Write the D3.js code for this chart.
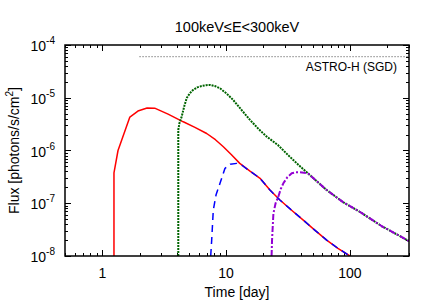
<!DOCTYPE html>
<html>
<head>
<meta charset="utf-8">
<script src="https://cdn.jsdelivr.net/npm/d3@7"></script>
<style>
body { margin: 0; background: #fff; }
text { font-family: "Liberation Sans", Arial, sans-serif; fill: #000; }
</style>
</head>
<body>
<div id="chart"></div>
<script>
// light curves, [time (day), flux (photons/s/cm^2)]
var redCurve = [
    [1.243, 1e-8], [1.243, 3.75e-7], [1.34, 1.0e-6], [1.67, 4.3e-6], [1.94, 5.6e-6],
    [2.3, 6.4e-6], [2.65, 6.35e-6], [3.4, 4.9e-6], [4.51, 3.5e-6], [5.6, 2.75e-6],
    [6.97, 2.1e-6], [8.2, 1.6e-6], [9.5, 1.18e-6], [11.0, 8.4e-7], [12.9, 5.7e-7],
    [15.5, 4.1e-7], [18.8, 2.97e-7], [22.5, 1.8e-7], [27.2, 1.15e-7], [34, 7.3e-8],
    [42, 4.8e-8], [52, 3.1e-8], [64.9, 2.0e-8], [80, 1.4e-8], [100, 1e-8]
];
var greenCurve = [
    [4.11, 1e-8], [4.11, 2.45e-6], [4.2, 3.3e-6], [4.38, 4.4e-6], [4.6, 7.0e-6],
    [4.81, 9.9e-6], [5.1, 1.22e-5], [5.4, 1.4e-5], [5.85, 1.57e-5], [6.35, 1.67e-5],
    [6.9, 1.73e-5], [7.41, 1.75e-5], [8.1, 1.67e-5], [8.93, 1.51e-5], [10.1, 1.2e-5],
    [11.4, 9.1e-6], [13.3, 5.9e-6], [15.6, 3.8e-6], [18.3, 2.55e-6], [21.3, 1.83e-6],
    [26.2, 1.27e-6], [32, 8.0e-7], [38.5, 5.3e-7], [45.8, 3.7e-7], [64.9, 1.78e-7],
    [88, 1.05e-7], [120, 6.9e-8], [180, 3.7e-8], [300, 1.92e-8]
];
var blueCurve = [
    [7.51, 1e-8], [7.65, 2.0e-8], [7.88, 7.4e-8], [8.3, 1.45e-7], [8.93, 2.39e-7],
    [9.8, 4.6e-7], [10.8, 5.5e-7], [12.2, 5.7e-7], [13.5, 5.2e-7], [15.5, 4.1e-7],
    [18.8, 2.97e-7], [22.5, 1.8e-7], [27.2, 1.15e-7], [34, 7.3e-8], [42, 4.8e-8],
    [52, 3.1e-8], [64.9, 2.0e-8], [80, 1.4e-8], [100, 1e-8]
];
var purpleCurve = [
    [23.3, 1e-8], [23.5, 2.0e-8], [24.1, 6.4e-8], [25.1, 1.0e-7], [26.4, 1.33e-7],
    [27.6, 1.85e-7], [29.0, 2.39e-7], [31.2, 3.1e-7], [33.9, 3.7e-7], [36.5, 3.85e-7],
    [39.5, 3.85e-7], [42.5, 3.8e-7], [45.8, 3.7e-7], [64.9, 1.78e-7], [88, 1.05e-7],
    [120, 6.9e-8], [180, 3.7e-8], [300, 1.92e-8]
];
var sensitivity = [[2.0, 6e-5], [300, 6e-5]];
var sensitivityLabel = "ASTRO-H (SGD)";

var xTicks = [1, 10, 100];
var yTicks = [1e-8, 1e-7, 1e-6, 1e-5, 1e-4];
var titleText = "100keV\u2264E<300keV";
var xLabel = "Time [day]";

var width = 436, height = 305;
var margin = {top: 45, right: 27, bottom: 49, left: 65};

var svg = d3.select("#chart")
    .append("svg")
    .attr("width", width)
    .attr("height", height);

var x = d3.scaleLog().domain([0.5, 300]).range([margin.left, width - margin.right]);
var y = d3.scaleLog().domain([1e-8, 1e-4]).range([height - margin.bottom, margin.top]);

var x0 = x.range()[0], x1 = x.range()[1];
var y0 = y.range()[0], y1 = y.range()[1];

svg.append("defs").append("clipPath").attr("id", "plotClip")
    .append("rect")
    .attr("x", x0).attr("y", y1)
    .attr("width", x1 - x0).attr("height", y0 - y1);

// minor ticks for log axes
function minorTicks(domain) {
    var out = [];
    var lo = Math.floor(Math.log10(domain[0])), hi = Math.ceil(Math.log10(domain[1]));
    for (var e = lo; e <= hi; e++) {
        for (var m = 1; m < 10; m++) {
            var v = m * Math.pow(10, e);
            if (v >= domain[0] && v <= domain[1]) out.push(v);
        }
    }
    return out;
}

var ticks = svg.append("g").attr("stroke", "#000").attr("stroke-width", 1);
minorTicks(x.domain()).forEach(function (v) {
    var major = xTicks.indexOf(v) >= 0;
    var len = major ? 6 : 3;
    var px = Math.round(x(v)) + 0.5;
    ticks.append("line").attr("x1", px).attr("x2", px).attr("y1", y0).attr("y2", y0 - len);
    ticks.append("line").attr("x1", px).attr("x2", px).attr("y1", y1).attr("y2", y1 + len);
});
minorTicks(y.domain()).forEach(function (v) {
    var major = yTicks.some(function (t) { return Math.abs(t - v) / t < 1e-9; });
    var len = major ? 6 : 3;
    var py = Math.round(y(v)) + 0.5;
    ticks.append("line").attr("x1", x0).attr("x2", x0 + len).attr("y1", py).attr("y2", py);
    ticks.append("line").attr("x1", x1).attr("x2", x1 - len).attr("y1", py).attr("y2", py);
});

// tick labels
xTicks.forEach(function (v) {
    svg.append("text")
        .attr("x", x(v)).attr("y", y0 + 22)
        .attr("text-anchor", "middle")
        .attr("font-size", 14)
        .text(v);
});
yTicks.forEach(function (v) {
    var t = svg.append("text")
        .attr("x", x0 - 10).attr("y", y(v) + 6)
        .attr("text-anchor", "end")
        .attr("font-size", 14);
    t.append("tspan").text("10");
    t.append("tspan").attr("dy", -7).attr("font-size", 10).text(Math.round(Math.log10(v)));
});

var line = d3.line()
    .x(function (d) { return x(d[0]); })
    .y(function (d) { return y(d[1]); });

var plot = svg.append("g").attr("clip-path", "url(#plotClip)");

// sensitivity line
plot.append("path")
    .attr("d", line(sensitivity))
    .attr("fill", "none")
    .attr("stroke", "#444")
    .attr("stroke-width", 1)
    .attr("stroke-dasharray", "1,2");

function drawCurve(data, color, w, dash) {
    plot.append("path")
        .attr("d", line(data))
        .attr("fill", "none")
        .attr("stroke", color)
        .attr("stroke-width", w)
        .attr("stroke-linejoin", "round")
        .attr("stroke-dasharray", dash);
}

drawCurve(redCurve, "#ff0000", 1.5, null);
drawCurve(greenCurve, "#006400", 2, "2,1");
drawCurve(blueCurve, "#0000ff", 1.5, "7,5");
drawCurve(purpleCurve, "#9400d3", 2, "6,2,2,2");

// frame
svg.append("rect")
    .attr("x", x0).attr("y", y1)
    .attr("width", x1 - x0).attr("height", y0 - y1)
    .attr("fill", "none")
    .attr("stroke", "#000")
    .attr("stroke-width", 1.5);

svg.append("text")
    .attr("x", x1 - 12).attr("y", y(sensitivity[0][1]) + 14)
    .attr("text-anchor", "end")
    .attr("font-size", 12)
    .text(sensitivityLabel);

svg.append("text")
    .attr("x", (x0 + x1) / 2).attr("y", 32)
    .attr("text-anchor", "middle")
    .attr("font-size", 14.5)
    .text(titleText);

svg.append("text")
    .attr("x", (x0 + x1) / 2).attr("y", 297)
    .attr("text-anchor", "middle")
    .attr("font-size", 14)
    .text(xLabel);

var yl = svg.append("text")
    .attr("transform", "translate(19," + ((y0 + y1) / 2) + ") rotate(-90)")
    .attr("text-anchor", "middle")
    .attr("font-size", 14);
yl.append("tspan").text("Flux [photons/s/cm");
yl.append("tspan").attr("dy", -6).attr("font-size", 10).text("2");
yl.append("tspan").attr("dy", 6).text("]");
</script>
</body>
</html>
